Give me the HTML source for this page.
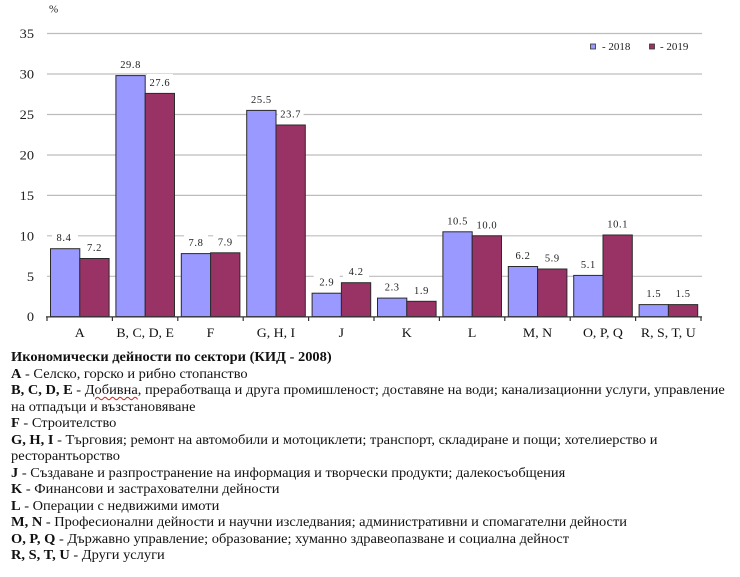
<!DOCTYPE html>
<html><head><meta charset="utf-8">
<style>
html,body{margin:0;padding:0;background:#fff;}
body{width:740px;height:577px;position:relative;overflow:hidden;}
svg{position:absolute;left:0;top:0;}
.txt{position:absolute;left:11px;top:349px;font-family:"Liberation Serif","Noto Serif CJK SC",serif;font-size:13.5px;line-height:16.5px;color:#111;white-space:nowrap;transform:scaleX(1.068);transform-origin:0 0;}
.txt div{height:16.5px;}
.sq{text-decoration:underline wavy #d02020;text-decoration-thickness:1px;text-underline-offset:2px;}
</style></head><body>
<svg width="740" height="345" viewBox="0 0 740 345" font-family="Liberation Serif, serif">
<g stroke="#bdbdbd" stroke-width="1.2">
<line x1="47" y1="33.5" x2="702" y2="33.5"/>
<line x1="47" y1="74" x2="702" y2="74"/>
<line x1="47" y1="114.5" x2="702" y2="114.5"/>
<line x1="47" y1="155" x2="702" y2="155"/>
<line x1="47" y1="195.4" x2="702" y2="195.4"/>
<line x1="47" y1="235.8" x2="702" y2="235.8"/>
<line x1="47" y1="276.3" x2="702" y2="276.3"/>
</g>
<g font-size="12.5" fill="#222" text-anchor="end">
<text transform="translate(34,38) scale(1.15,1)">35</text>
<text transform="translate(34,78.5) scale(1.15,1)">30</text>
<text transform="translate(34,119) scale(1.15,1)">25</text>
<text transform="translate(34,159.5) scale(1.15,1)">20</text>
<text transform="translate(34,199.9) scale(1.15,1)">15</text>
<text transform="translate(34,240.3) scale(1.15,1)">10</text>
<text transform="translate(34,280.8) scale(1.15,1)">5</text>
<text transform="translate(34,321.2) scale(1.15,1)">0</text>
</g>
<text x="49" y="12.7" font-size="11" fill="#222">%</text>
<rect x="590.5" y="44" width="5" height="5" fill="#9999ff" stroke="#333" stroke-width="0.8"/>
<text x="602" y="50" font-size="11" fill="#222">- 2018</text>
<rect x="649.5" y="44" width="5" height="5" fill="#993366" stroke="#333" stroke-width="0.8"/>
<text x="660" y="50" font-size="11" fill="#222">- 2019</text>
<g stroke="#2a2a2a" stroke-width="1">
<rect x="50.5" y="248.7" width="29.3" height="68" fill="#9999ff"/>
<rect x="79.8" y="258.5" width="29.3" height="58.2" fill="#993366"/>
<rect x="115.9" y="75.6" width="29.3" height="241.1" fill="#9999ff"/>
<rect x="145.2" y="93.4" width="29.3" height="223.3" fill="#993366"/>
<rect x="181.3" y="253.6" width="29.3" height="63.1" fill="#9999ff"/>
<rect x="210.6" y="252.8" width="29.3" height="63.9" fill="#993366"/>
<rect x="246.7" y="110.4" width="29.3" height="206.3" fill="#9999ff"/>
<rect x="276.0" y="125" width="29.3" height="191.7" fill="#993366"/>
<rect x="312.1" y="293.2" width="29.3" height="23.5" fill="#9999ff"/>
<rect x="341.4" y="282.7" width="29.3" height="34" fill="#993366"/>
<rect x="377.5" y="298.1" width="29.3" height="18.6" fill="#9999ff"/>
<rect x="406.8" y="301.3" width="29.3" height="15.4" fill="#993366"/>
<rect x="442.9" y="231.8" width="29.3" height="84.9" fill="#9999ff"/>
<rect x="472.2" y="235.8" width="29.3" height="80.9" fill="#993366"/>
<rect x="508.3" y="266.5" width="29.3" height="50.2" fill="#9999ff"/>
<rect x="537.6" y="269" width="29.3" height="47.7" fill="#993366"/>
<rect x="573.7" y="275.4" width="29.3" height="41.3" fill="#9999ff"/>
<rect x="603.0" y="235" width="29.3" height="81.7" fill="#993366"/>
<rect x="639.1" y="304.6" width="29.3" height="12.1" fill="#9999ff"/>
<rect x="668.4" y="304.6" width="29.3" height="12.1" fill="#993366"/>
</g>
<line x1="46" y1="316.9" x2="702" y2="316.9" stroke="#333" stroke-width="1.3"/>
<g stroke="#333" stroke-width="1.2">
<line x1="47" y1="317" x2="47" y2="321"/>
<line x1="112.4" y1="317" x2="112.4" y2="321"/>
<line x1="177.8" y1="317" x2="177.8" y2="321"/>
<line x1="243.2" y1="317" x2="243.2" y2="321"/>
<line x1="308.6" y1="317" x2="308.6" y2="321"/>
<line x1="374" y1="317" x2="374" y2="321"/>
<line x1="439.4" y1="317" x2="439.4" y2="321"/>
<line x1="504.8" y1="317" x2="504.8" y2="321"/>
<line x1="570.2" y1="317" x2="570.2" y2="321"/>
<line x1="635.6" y1="317" x2="635.6" y2="321"/>
<line x1="701" y1="317" x2="701" y2="321"/>
</g>
<g font-size="10.5" fill="#222" text-anchor="middle" letter-spacing="0.6">
<g fill="#fff">
<rect x="52" y="229.2" width="26" height="15"/><rect x="81.5" y="239" width="26" height="15"/>
<rect x="117.5" y="56.1" width="26" height="15"/><rect x="147" y="73.9" width="26" height="15"/>
<rect x="184" y="234.1" width="24" height="15"/><rect x="213.2" y="233.3" width="24" height="15"/>
<rect x="248.3" y="90.9" width="26" height="15"/><rect x="277.6" y="105.5" width="26" height="15"/>
<rect x="313.7" y="273.7" width="26" height="15"/><rect x="343" y="263.2" width="26" height="15"/>
<rect x="379.1" y="278.6" width="26" height="15"/><rect x="408.4" y="281.8" width="26" height="15"/>
<rect x="444.5" y="212.3" width="26" height="15"/><rect x="473.8" y="216.3" width="26" height="15"/>
<rect x="509.9" y="247" width="26" height="15"/><rect x="539.2" y="249.5" width="26" height="15"/>
<rect x="575.3" y="255.9" width="26" height="15"/><rect x="604.6" y="215.5" width="26" height="15"/>
<rect x="640.7" y="285.1" width="26" height="15"/><rect x="670" y="285.1" width="26" height="15"/>
</g>
<text x="64" y="241.2">8.4</text><text x="94.5" y="251">7.2</text>
<text x="130.6" y="68.1">29.8</text><text x="159.9" y="85.9">27.6</text>
<text x="196" y="246.1">7.8</text><text x="225.3" y="245.3">7.9</text>
<text x="261.4" y="102.9">25.5</text><text x="290.7" y="117.5">23.7</text>
<text x="326.8" y="285.7">2.9</text><text x="356.1" y="275.2">4.2</text>
<text x="392.2" y="290.6">2.3</text><text x="421.5" y="293.8">1.9</text>
<text x="457.6" y="224.3">10.5</text><text x="486.9" y="228.3">10.0</text>
<text x="523" y="259">6.2</text><text x="552.3" y="261.5">5.9</text>
<text x="588.4" y="267.9">5.1</text><text x="617.7" y="227.5">10.1</text>
<text x="653.8" y="297.1">1.5</text><text x="683.1" y="297.1">1.5</text>
</g>
<g font-size="12.8" fill="#111" text-anchor="middle">
<text transform="translate(79.7,337) scale(1.08,1)">A</text>
<text transform="translate(145.1,337) scale(1.08,1)">B, C, D, E</text>
<text transform="translate(210.5,337) scale(1.08,1)">F</text>
<text transform="translate(275.9,337) scale(1.08,1)">G, H, I</text>
<text transform="translate(341.3,337) scale(1.08,1)">J</text>
<text transform="translate(406.7,337) scale(1.08,1)">K</text>
<text transform="translate(472.1,337) scale(1.08,1)">L</text>
<text transform="translate(537.5,337) scale(1.08,1)">M, N</text>
<text transform="translate(602.9,337) scale(1.08,1)">O, P, Q</text>
<text transform="translate(668.3,337) scale(1.08,1)">R, S, T, U</text>
</g>
</svg>
<div class="txt">
<div><b>Икономически дейности по сектори (КИД - 2008)</b></div>
<div><b>A</b> - Селско, горско и рибно стопанство</div>
<div><b>B, C, D, E</b> - <span class="sq">Добивна</span>, преработваща и друга промишленост; доставяне на води; канализационни услуги, управление</div>
<div>на отпадъци и възстановяване</div>
<div><b>F</b> - Строителство</div>
<div><b>G, H, I</b> - Търговия; ремонт на автомобили и мотоциклети; транспорт, складиране и пощи; хотелиерство и</div>
<div>ресторантьорство</div>
<div><b>J</b> - Създаване и разпространение на информация и творчески продукти; далекосъобщения</div>
<div><b>K</b> - Финансови и застрахователни дейности</div>
<div><b>L</b> - Операции с недвижими имоти</div>
<div><b>M, N</b> - Професионални дейности и научни изследвания; административни и спомагателни дейности</div>
<div><b>O, P, Q</b> - Държавно управление; образование; хуманно здравеопазване и социална дейност</div>
<div><b>R, S, T, U</b> - Други услуги</div>
</div>
</body></html>
